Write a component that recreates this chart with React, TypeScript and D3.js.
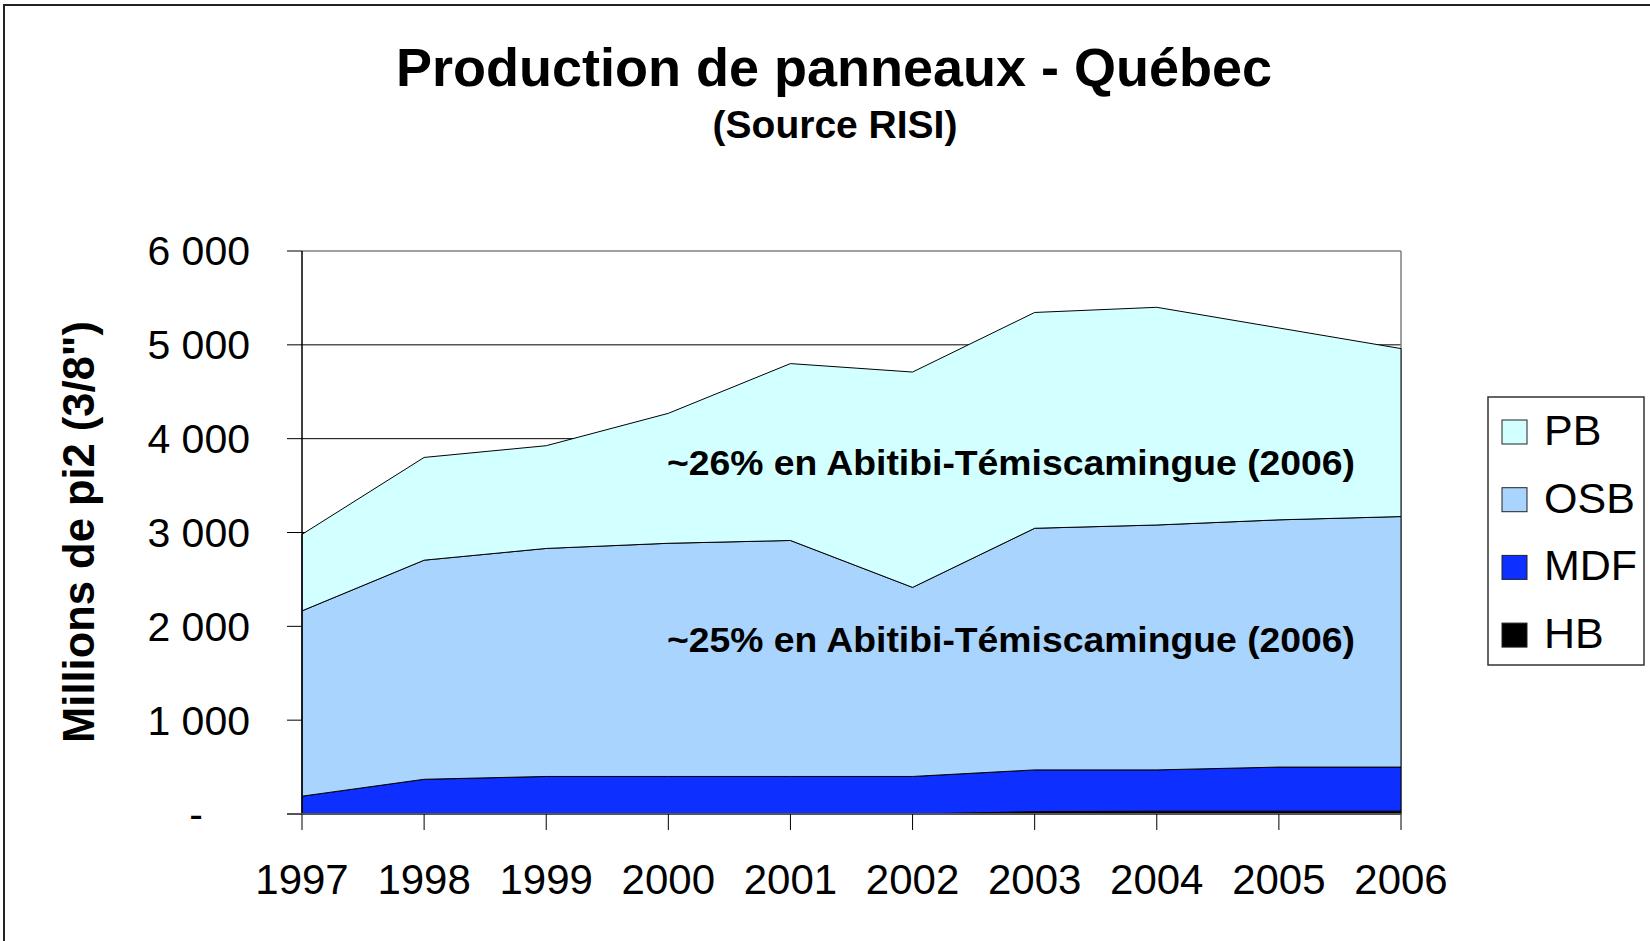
import React from "react"
import * as d3 from "d3"

const years = [1997, 1998, 1999, 2000, 2001, 2002, 2003, 2004, 2005, 2006]
const hb = [0, 0, 0, 0, 0, 0, 25, 30, 30, 30]
const mdf = [190, 370, 400, 400, 400, 400, 445, 440, 470, 470]
const osb = [1975, 2335, 2430, 2485, 2515, 2015, 2575, 2610, 2635, 2670]
const pb = [815, 1095, 1095, 1385, 1885, 2295, 2300, 2320, 2045, 1790]
const yTicks = [0, 1000, 2000, 3000, 4000, 5000, 6000]
const seriesKeys = ["HB", "MDF", "OSB", "PB"]
const legendKeys = ["PB", "OSB", "MDF", "HB"]
const notes = ["~26% en Abitibi-Témiscamingue (2006)", "~25% en Abitibi-Témiscamingue (2006)"]

const colors: Record<string, string> = {
  PB: "#D2FFFF",
  OSB: "#A8D4FE",
  MDF: "#0D2FFF",
  HB: "#000000",
}

const font = "'Liberation Sans', Arial, sans-serif"

const App = () => {
  const W = 1650
  const H = 941
  const left = 302
  const right = 1401
  const top = 251
  const bottom = 814

  const rows = years.map((y, i) => ({ year: y, HB: hb[i], MDF: mdf[i], OSB: osb[i], PB: pb[i] }))
  const stacked = d3.stack<any>().keys(seriesKeys)(rows)

  const x = d3.scaleLinear().domain([years[0], years[years.length - 1]]).range([left, right])
  const y = d3.scaleLinear().domain([0, 6000]).range([bottom, top])

  const area = d3
    .area<any>()
    .x((d) => x(d.data.year))
    .y0((d) => y(d[0]))
    .y1((d) => y(d[1]))

  const fmt = (v: number) => (v === 0 ? "-" : d3.format(",")(v).replace(",", " "))

  return (
    <div style={{ position: "fixed", left: 0, top: 0, width: W, height: H, background: "#fff" }}>
      <svg width={W} height={H} style={{ display: "block", fontFamily: font }}>
        <rect x={0} y={0} width={W} height={H} fill="#fff" />
        <rect x={4} y={5} width={W + 20} height={H + 20} fill="none" stroke="#222" strokeWidth={2} />

        <text x={834} y={86} textAnchor="middle" fontSize={54} fontWeight="bold">
          Production de panneaux - Québec
        </text>
        <text x={835} y={138} textAnchor="middle" fontSize={39} fontWeight="bold">
          (Source RISI)
        </text>

        {/* grid */}
        {yTicks.slice(1, -1).map((t) => (
          <line key={t} x1={left} x2={right} y1={y(t)} y2={y(t)} stroke="#000" strokeWidth={1} />
        ))}
        <line x1={left} x2={right} y1={y(6000)} y2={y(6000)} stroke="#808080" strokeWidth={1.5} />
        <line x1={right} x2={right} y1={top} y2={bottom} stroke="#808080" strokeWidth={1.5} />

        {/* areas */}
        {stacked.map((s) => (
          <path key={s.key} d={area(s) || ""} fill={colors[s.key]} stroke="#000" strokeWidth={1} />
        ))}

        {notes.map((n, i) => (
          <text
            key={n}
            x={1011}
            y={i === 0 ? 475 : 652}
            textAnchor="middle"
            fontSize={35}
            fontWeight="bold"
            textLength={688}
            lengthAdjust="spacingAndGlyphs"
          >
            {n}
          </text>
        ))}

        {/* y axis */}
        <line x1={left} x2={left} y1={top} y2={bottom} stroke="#000" strokeWidth={1.5} />
        {yTicks.map((t) => (
          <g key={t}>
            <line x1={left - 15} x2={left} y1={y(t)} y2={y(t)} stroke="#000" strokeWidth={1} />
            <text
              x={t === 0 ? 203 : 250}
              y={y(t)}
              dy="0.35em"
              textAnchor="end"
              fontSize={41}
            >
              {fmt(t)}
            </text>
          </g>
        ))}

        {/* x axis */}
        <line x1={left - 15} x2={right} y1={bottom} y2={bottom} stroke="#555" strokeWidth={2} />
        {years.map((yr) => (
          <g key={yr}>
            <line x1={x(yr)} x2={x(yr)} y1={bottom} y2={bottom + 16} stroke="#000" strokeWidth={1} />
            <text x={x(yr)} y={894} textAnchor="middle" fontSize={42}>
              {yr}
            </text>
          </g>
        ))}

        <text
          transform="translate(79,532) rotate(-90)"
          textAnchor="middle"
          dy="0.35em"
          fontSize={43.5}
          fontWeight="bold"
        >
          Millions de pi2 (3/8")
        </text>

        {/* legend */}
        <rect x={1488} y={397} width={156} height={268} fill="#fff" stroke="#333" strokeWidth={1.5} />
        {legendKeys.map((k, i) => {
          const cy = 432 + i * 67.7
          return (
            <g key={k}>
              <rect x={1502} y={cy - 12} width={25} height={24} fill={colors[k]} stroke="#222" strokeWidth={1} />
              <text x={1544} y={cy + 13} fontSize={43}>
                {k}
              </text>
            </g>
          )
        })}
      </svg>
    </div>
  )
}

export default App
